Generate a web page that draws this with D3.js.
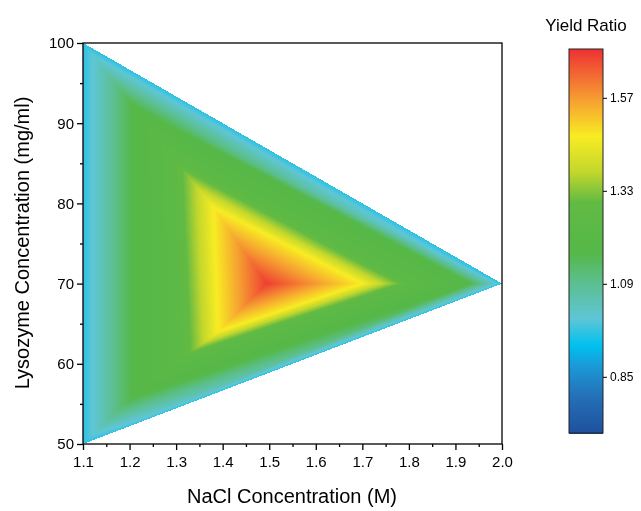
<!DOCTYPE html><html><head><meta charset="utf-8">
<script src="https://cdn.jsdelivr.net/npm/d3@7"></script>
<style>body{margin:0;background:#fff;font-family:Arial,"Liberation Sans",sans-serif}#w{position:relative;width:641px;height:511px}canvas,svg{position:absolute;left:0;top:0}</style>
</head><body><div id="w"><canvas id="c" width="641" height="511"></canvas><svg id="s" width="641" height="511"></svg></div>
<script>
// nested triangle rings (outer -> inner): [x, y] corners (top, bottom, right) and value
const ringCorners = [
  [[1.1,100],[1.1,50],[2.0,70]],
  [[1.21,92],[1.21,56],[1.93,70]],
  [[1.29,86],[1.31,60.5],[1.81,70]],
  [[1.38,79.5],[1.39,64],[1.70,70]]
];
const ringValues = [0.96, 1.18, 1.24, 1.47];
const centerPoint = [1.495, 70];
const centerValue = 1.68;
const xTicks = [1.1,1.2,1.3,1.4,1.5,1.6,1.7,1.8,1.9,2.0];
const yTicks = [50,60,70,80,90,100];
const cbTicks = [0.85,1.09,1.33,1.57];
const colorStops = [0.70,0.80,0.88,0.93,1.0,1.09,1.17,1.30,1.38,1.47,1.56,1.69];
const colorVals = ["#1f4f9c","#2470b8","#1a9bd8","#00c0ef","#5ec6d6","#5cbf92","#55b848","#62ba43","#c3d72c","#f8ec23","#f6a331","#ee3533"];

const x = d3.scaleLinear().domain([1.1,2.0]).range([83,502]);
const y = d3.scaleLinear().domain([50,100]).range([444,43]);
const color = d3.scaleLinear().domain(colorStops).range(colorVals).clamp(true);

const tris = [];
const P = (p,v)=>({px:x(p[0]),py:y(p[1]),v});
for(let k=0;k<ringCorners.length-1;k++){
  for(let i=0;i<3;i++){
    const j=(i+1)%3;
    const a=P(ringCorners[k][i],ringValues[k]), b=P(ringCorners[k][j],ringValues[k]);
    const a2=P(ringCorners[k+1][i],ringValues[k+1]), b2=P(ringCorners[k+1][j],ringValues[k+1]);
    tris.push([a,b,b2]); tris.push([a,b2,a2]);
  }
}
const last=ringCorners.length-1, cp=P(centerPoint,centerValue);
for(let i=0;i<3;i++){const j=(i+1)%3;tris.push([P(ringCorners[last][i],ringValues[last]),P(ringCorners[last][j],ringValues[last]),cp]);}

const ctx=document.getElementById('c').getContext('2d');
const img=ctx.createImageData(641,511);
for(const t of tris){
  const [A,B,C]=t;
  const minx=Math.floor(Math.min(A.px,B.px,C.px)),maxx=Math.ceil(Math.max(A.px,B.px,C.px));
  const miny=Math.floor(Math.min(A.py,B.py,C.py)),maxy=Math.ceil(Math.max(A.py,B.py,C.py));
  const d=(B.py-C.py)*(A.px-C.px)+(C.px-B.px)*(A.py-C.py);
  for(let py=miny;py<=maxy;py++)for(let px=minx;px<=maxx;px++){
    const X=px+0.5,Y=py+0.5;
    const l1=((B.py-C.py)*(X-C.px)+(C.px-B.px)*(Y-C.py))/d;
    const l2=((C.py-A.py)*(X-C.px)+(A.px-C.px)*(Y-C.py))/d;
    const l3=1-l1-l2;
    if(l1<-0.001||l2<-0.001||l3<-0.001)continue;
    const v=l1*A.v+l2*B.v+l3*C.v;
    const c=d3.rgb(color(v));
    const o=(py*641+px)*4;
    img.data[o]=c.r;img.data[o+1]=c.g;img.data[o+2]=c.b;img.data[o+3]=255;
  }
}
const cb=d3.scaleLinear().domain([0.705,1.696]).range([433,49]);
for(let py=49;py<=433;py++){const c=d3.rgb(color(cb.invert(py+0.5)));for(let px=569;px<603;px++){const o=(py*641+px)*4;img.data[o]=c.r;img.data[o+1]=c.g;img.data[o+2]=c.b;img.data[o+3]=255;}}
ctx.putImageData(img,0,0);

const svg=d3.select('#s');
svg.append('rect').attr('x',83).attr('y',43).attr('width',419).attr('height',401).attr('fill','none').attr('stroke','#000').attr('stroke-width',1.3);
const xa=svg.append('g').attr('transform','translate(0,444)').call(d3.axisBottom(x).tickValues(xTicks).tickFormat(d3.format('.1f')).tickSize(6).tickSizeOuter(0));
const ya=svg.append('g').attr('transform','translate(83,0)').call(d3.axisLeft(y).tickValues(yTicks).tickSize(6).tickSizeOuter(0));
svg.append('g').attr('transform','translate(0,444)').call(d3.axisBottom(x).tickValues(d3.range(11,20).map(d=>d/10+0.05)).tickFormat('').tickSize(3).tickSizeOuter(0));
svg.append('g').attr('transform','translate(83,0)').call(d3.axisLeft(y).tickValues(d3.range(55,100,10)).tickFormat('').tickSize(3).tickSizeOuter(0));
svg.selectAll('.domain').remove();
svg.selectAll('.tick line').attr('stroke','#000').attr('stroke-width',1.3);
xa.selectAll('text').attr('font-size',15).attr('fill','#000').attr('dy','0.9em');
ya.selectAll('text').attr('font-size',15).attr('fill','#000');
svg.append('text').attr('x',292).attr('y',503).attr('text-anchor','middle').attr('font-size',20).text('NaCl Concentration (M)');
svg.append('text').attr('transform','translate(29,243) rotate(-90)').attr('text-anchor','middle').attr('font-size',20).text('Lysozyme Concentration (mg/ml)');
svg.append('rect').attr('x',569).attr('y',49).attr('width',34).attr('height',384).attr('fill','none').attr('stroke','#222').attr('stroke-width',1);
const ca=svg.append('g').attr('transform','translate(603,0)').call(d3.axisRight(cb).tickValues(cbTicks).tickFormat(d3.format('.2f')).tickSize(4).tickSizeOuter(0));
ca.select('.domain').remove();
ca.selectAll('text').attr('font-size',12).attr('fill','#000');
svg.append('text').attr('x',586).attr('y',31).attr('text-anchor','middle').attr('font-size',17).text('Yield Ratio');
</script></body></html>
